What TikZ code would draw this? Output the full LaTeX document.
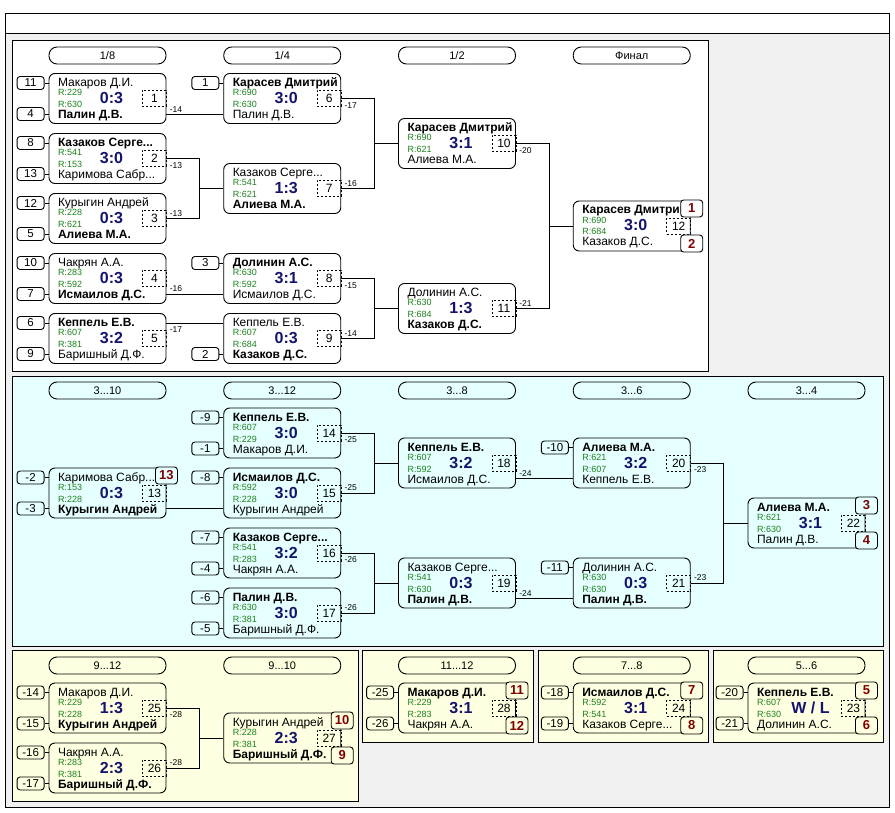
\documentclass[tikz,border=0pt]{standalone}
\usepackage{fontspec}
\setmainfont{Liberation Sans}
\usetikzlibrary{positioning}
\definecolor{panelgray}{HTML}{F0F0F0}
\definecolor{panelcyan}{HTML}{E6FFFF}
\definecolor{panelyellow}{HTML}{FFFFE1}
\definecolor{ratinggreen}{HTML}{1C801C}
\definecolor{scoreblue}{HTML}{14146E}
\definecolor{placered}{HTML}{800000}
\tikzset{every picture/.style={
  line width=0.9pt              % One pixel lines.
  }
}

% A match: name, centre, upper player, lower player, ratings, score, number.
\newcommand{\match}[8]{%
  \node[game] (#1) at (#2) {};
  \coordinate (#1-t) at ([yshift=15.5pt]#1.west);
  \coordinate (#1-b) at ([yshift=-15.5pt]#1.west);
  \node[player] (#1-tp) at ([xshift=9pt,yshift=12pt]#1.west) {#3};
  \node[player] (#1-bp) at ([xshift=9pt,yshift=-20pt]#1.west) {#4};
  \node[rating] (#1-tr) at ([xshift=9pt,yshift=2.5pt]#1.west) {R:#5};
  \node[rating] (#1-br) at ([xshift=9pt,yshift=-9pt]#1.west) {R:#6};
  \node[score] (#1-sc) at ([xshift=63pt,yshift=-5pt]#1.west) {#7};
  \node[num] (#1-nr) at ([xshift=-12pt]#1.east) {#8};
}
% A seed box in front of slot t or b of a match.
\newcommand{\seed}[3]{%
  \node[seedbox] (#1-#2s) [left=4pt of #1-#2] {#3};
  \draw (#1-#2s) -- (#1-#2);
}

\begin{document}
\begin{tikzpicture}[x=1pt,y=-1pt,
    game/.style={               % Rounded box of one match.
      rectangle,
      draw,
      rounded corners=6pt,
      minimum width=117pt,
      minimum height=50pt,
      inner sep=0pt
    },
    player/.style={             % Names of the two players.
      anchor=base west,
      inner sep=0pt,
      font=\fontsize{12}{14}\selectfont
    },
    rating/.style={
      anchor=base west,
      inner sep=0pt,
      text=ratinggreen,
      font=\fontsize{9}{11}\selectfont
    },
    score/.style={
      anchor=base,
      inner sep=0pt,
      text=scoreblue,
      font=\fontsize{16}{18}\selectfont\bfseries
    },
    num/.style={                % Dashed box with the match number.
      draw,
      dash pattern=on 2pt off 2pt,
      minimum width=24pt,
      minimum height=16pt,
      inner sep=0pt,
      font=\fontsize{12}{14}\selectfont
    },
    seedbox/.style={
      draw,
      rounded corners=3pt,
      minimum width=27pt,
      minimum height=13pt,
      inner sep=0pt,
      font=\fontsize{11.5}{13}\selectfont
    },
    placebox/.style={           % Final places.
      draw,
      rounded corners=3pt,
      minimum width=22pt,
      minimum height=17pt,
      inner sep=0pt,
      text=placered,
      font=\fontsize{13}{15}\selectfont\bfseries
    },
    stage/.style={              % Round headers.
      draw,
      rounded corners=8pt,
      minimum width=117pt,
      minimum height=17pt,
      inner sep=0pt,
      font=\fontsize{11}{13}\selectfont
    },
    lblup/.style={
      anchor=south west,
      inner xsep=3pt,
      inner ysep=1.5pt,
      font=\fontsize{8.5}{10}\selectfont
    },
    lbldown/.style={
      anchor=north west,
      inner xsep=3pt,
      inner ysep=3.5pt,
      font=\fontsize{8.5}{10}\selectfont
    }]
    \useasboundingbox (0,0) rectangle (895,813);

    % Window and panels.
    \draw[fill=panelgray] (5,13) rectangle (889,807);
    \draw[fill=white] (5,13) rectangle (889,33);
    \draw[fill=white] (12,40) rectangle (708,371);
    \draw[fill=panelcyan] (12,376) rectangle (883,646);
    \draw[fill=panelyellow] (12,650) rectangle (358,801);
    \draw[fill=panelyellow] (362,650) rectangle (533,742);
    \draw[fill=panelyellow] (538,650) rectangle (708,742);
    \draw[fill=panelyellow] (713,650) rectangle (883,742);

    % Round headers.
    \node[stage] (h18) at (107.5,55.5) {1/8};
    \node[stage] (h14) at (282.25,55.5) {1/4};
    \node[stage] (h12) at (457,55.5) {1/2};
    \node[stage] (hfin) at (631.75,55.5) {Финал};
    \node[stage] (h3-10) at (107.5,390.5) {3...10};
    \node[stage] (h3-12) at (282.25,390.5) {3...12};
    \node[stage] (h3-8) at (457,390.5) {3...8};
    \node[stage] (h3-6) at (631.75,390.5) {3...6};
    \node[stage] (h3-4) at (806.5,390.5) {3...4};
    \node[stage] (h9-12) at (107.5,665.5) {9...12};
    \node[stage] (h9-10) at (282.25,665.5) {9...10};
    \node[stage] (h11-12) at (457,665.5) {11...12};
    \node[stage] (h7-8) at (631.75,665.5) {7...8};
    \node[stage] (h5-6) at (806.5,665.5) {5...6};

    % Main bracket.
    \match{m1}{107.5,98.5}{Макаров Д.И.}{\bfseries Палин Д.В.}{229}{630}{0:3}{1}
    \match{m2}{107.5,158.5}{\bfseries Казаков Серге...}{Каримова Сабр...}{541}{153}{3:0}{2}
    \match{m3}{107.5,218.5}{Курыгин Андрей}{\bfseries Алиева М.А.}{228}{621}{0:3}{3}
    \match{m4}{107.5,278.5}{Чакрян А.А.}{\bfseries Исмаилов Д.С.}{283}{592}{0:3}{4}
    \match{m5}{107.5,338.5}{\bfseries Кеппель Е.В.}{Баришный Д.Ф.}{607}{381}{3:2}{5}
    \match{m6}{282.25,98.5}{\bfseries Карасев Дмитрий}{Палин Д.В.}{690}{630}{3:0}{6}
    \match{m7}{282.25,188.5}{Казаков Серге...}{\bfseries Алиева М.А.}{541}{621}{1:3}{7}
    \match{m8}{282.25,278.5}{\bfseries Долинин А.С.}{Исмаилов Д.С.}{630}{592}{3:1}{8}
    \match{m9}{282.25,338.5}{Кеппель Е.В.}{\bfseries Казаков Д.С.}{607}{684}{0:3}{9}
    \match{m10}{457,143.5}{\bfseries Карасев Дмитрий}{Алиева М.А.}{690}{621}{3:1}{10}
    \match{m11}{457,308.5}{Долинин А.С.}{\bfseries Казаков Д.С.}{630}{684}{1:3}{11}
    \match{m12}{631.75,226}{\bfseries Карасев Дмитрий}{Казаков Д.С.}{690}{684}{3:0}{12}

    % Places 3 to 13.
    \match{m13}{107.5,493}{Каримова Сабр...}{\bfseries Курыгин Андрей}{153}{228}{0:3}{13}
    \match{m14}{282.25,433}{\bfseries Кеппель Е.В.}{Макаров Д.И.}{607}{229}{3:0}{14}
    \match{m15}{282.25,493}{\bfseries Исмаилов Д.С.}{Курыгин Андрей}{592}{228}{3:0}{15}
    \match{m16}{282.25,553}{\bfseries Казаков Серге...}{Чакрян А.А.}{541}{283}{3:2}{16}
    \match{m17}{282.25,613}{\bfseries Палин Д.В.}{Баришный Д.Ф.}{630}{381}{3:0}{17}
    \match{m18}{457,463}{\bfseries Кеппель Е.В.}{Исмаилов Д.С.}{607}{592}{3:2}{18}
    \match{m19}{457,583}{Казаков Серге...}{\bfseries Палин Д.В.}{541}{630}{0:3}{19}
    \match{m20}{631.75,463}{\bfseries Алиева М.А.}{Кеппель Е.В.}{621}{607}{3:2}{20}
    \match{m21}{631.75,583}{Долинин А.С.}{\bfseries Палин Д.В.}{630}{630}{0:3}{21}
    \match{m22}{806.5,523}{\bfseries Алиева М.А.}{Палин Д.В.}{621}{630}{3:1}{22}

    % Lower panels.
    \match{m25}{107.5,708}{Макаров Д.И.}{\bfseries Курыгин Андрей}{229}{228}{1:3}{25}
    \match{m26}{107.5,768}{Чакрян А.А.}{\bfseries Баришный Д.Ф.}{283}{381}{2:3}{26}
    \match{m27}{282.25,738}{Курыгин Андрей}{\bfseries Баришный Д.Ф.}{228}{381}{2:3}{27}
    \match{m28}{457,708}{\bfseries Макаров Д.И.}{Чакрян А.А.}{229}{283}{3:1}{28}
    \match{m24}{631.75,708}{\bfseries Исмаилов Д.С.}{Казаков Серге...}{592}{541}{3:1}{24}
    \match{m23}{806.5,708}{\bfseries Кеппель Е.В.}{Долинин А.С.}{607}{630}{W / L}{23}

    % Seeds.
    \seed{m1}{t}{11} \seed{m1}{b}{4}
    \seed{m2}{t}{8} \seed{m2}{b}{13}
    \seed{m3}{t}{12} \seed{m3}{b}{5}
    \seed{m4}{t}{10} \seed{m4}{b}{7}
    \seed{m5}{t}{6} \seed{m5}{b}{9}
    \seed{m6}{t}{1} \seed{m8}{t}{3} \seed{m9}{b}{2}
    \seed{m13}{t}{-2} \seed{m13}{b}{-3}
    \seed{m14}{t}{-9} \seed{m14}{b}{-1}
    \seed{m15}{t}{-8}
    \seed{m16}{t}{-7} \seed{m16}{b}{-4}
    \seed{m17}{t}{-6} \seed{m17}{b}{-5}
    \seed{m20}{t}{-10} \seed{m21}{t}{-11}
    \seed{m25}{t}{-14} \seed{m25}{b}{-15}
    \seed{m26}{t}{-16} \seed{m26}{b}{-17}
    \seed{m28}{t}{-25} \seed{m28}{b}{-26}
    \seed{m24}{t}{-18} \seed{m24}{b}{-19}
    \seed{m23}{t}{-20} \seed{m23}{b}{-21}

    % Winners move on.
    \draw (m1.east |- m6-b) -- (m6-b);
    \draw (m2.east) -- ++(33,0) |- (m7.west);
    \draw (m3.east) -- ++(33,0) |- (m7.west);
    \draw (m4.east |- m8-b) -- (m8-b);
    \draw (m5.east |- m9-t) -- (m9-t);
    \draw (m6.east) -- ++(33,0) |- (m10.west);
    \draw (m7.east) -- ++(33,0) |- (m10.west);
    \draw (m8.east) -- ++(33,0) |- (m11.west);
    \draw (m9.east) -- ++(33,0) |- (m11.west);
    \draw (m10.east) -- ++(33,0) |- (m12.west);
    \draw (m11.east) -- ++(33,0) |- (m12.west);
    \draw (m13.east |- m15-b) -- (m15-b);
    \draw (m14.east) -- ++(33,0) |- (m18.west);
    \draw (m15.east) -- ++(33,0) |- (m18.west);
    \draw (m16.east) -- ++(33,0) |- (m19.west);
    \draw (m17.east) -- ++(33,0) |- (m19.west);
    \draw (m18.east |- m20-b) -- (m20-b);
    \draw (m19.east |- m21-b) -- (m21-b);
    \draw (m20.east) -- ++(33,0) |- (m22.west);
    \draw (m21.east) -- ++(33,0) |- (m22.west);
    \draw (m25.east) -- ++(33,0) |- (m27.west);
    \draw (m26.east) -- ++(33,0) |- (m27.west);

    % Where the losers go.
    \node[lblup] (m1-l) at (m1.east |- m6-b) {-14};
    \node[lbldown] (m2-l) at (m2.east) {-13};
    \node[lblup] (m3-l) at (m3.east) {-13};
    \node[lblup] (m4-l) at (m4.east |- m8-b) {-16};
    \node[lbldown] (m5-l) at (m5.east |- m9-t) {-17};
    \node[lbldown] (m6-l) at (m6.east) {-17};
    \node[lblup] (m7-l) at (m7.east) {-16};
    \node[lbldown] (m8-l) at (m8.east) {-15};
    \node[lblup] (m9-l) at (m9.east) {-14};
    \node[lbldown] (m10-l) at (m10.east) {-20};
    \node[lblup] (m11-l) at (m11.east) {-21};
    \node[lbldown] (m14-l) at (m14.east) {-25};
    \node[lblup] (m15-l) at (m15.east) {-25};
    \node[lbldown] (m16-l) at (m16.east) {-26};
    \node[lblup] (m17-l) at (m17.east) {-26};
    \node[lblup] (m18-l) at (m18.east |- m20-b) {-24};
    \node[lblup] (m19-l) at (m19.east |- m21-b) {-24};
    \node[lbldown] (m20-l) at (m20.east) {-23};
    \node[lblup] (m21-l) at (m21.east) {-23};
    \node[lbldown] (m25-l) at (m25.east) {-28};
    \node[lblup] (m26-l) at (m26.east) {-28};

    % Final places.
    \node[placebox,fill=white] (m12-pt) at ([xshift=1pt,yshift=17.5pt]m12.east) {1};
    \node[placebox,fill=white] (m12-pb) at ([xshift=1pt,yshift=-17.5pt]m12.east) {2};
    \node[placebox,fill=panelcyan] (m13-pt) at ([xshift=0pt,yshift=17.5pt]m13.east) {13};
    \node[placebox,fill=panelcyan] (m22-pt) at ([xshift=1pt,yshift=17.5pt]m22.east) {3};
    \node[placebox,fill=panelcyan] (m22-pb) at ([xshift=1pt,yshift=-17.5pt]m22.east) {4};
    \node[placebox,fill=panelyellow] (m27-pt) at ([xshift=1pt,yshift=17.5pt]m27.east) {10};
    \node[placebox,fill=panelyellow] (m27-pb) at ([xshift=1pt,yshift=-17.5pt]m27.east) {9};
    \node[placebox,fill=panelyellow] (m28-pt) at ([xshift=1pt,yshift=17.5pt]m28.east) {11};
    \node[placebox,fill=panelyellow] (m28-pb) at ([xshift=1pt,yshift=-17.5pt]m28.east) {12};
    \node[placebox,fill=panelyellow] (m24-pt) at ([xshift=1pt,yshift=17.5pt]m24.east) {7};
    \node[placebox,fill=panelyellow] (m24-pb) at ([xshift=1pt,yshift=-17.5pt]m24.east) {8};
    \node[placebox,fill=panelyellow] (m23-pt) at ([xshift=1pt,yshift=17.5pt]m23.east) {5};
    \node[placebox,fill=panelyellow] (m23-pb) at ([xshift=1pt,yshift=-17.5pt]m23.east) {6};
\end{tikzpicture}
\end{document}
